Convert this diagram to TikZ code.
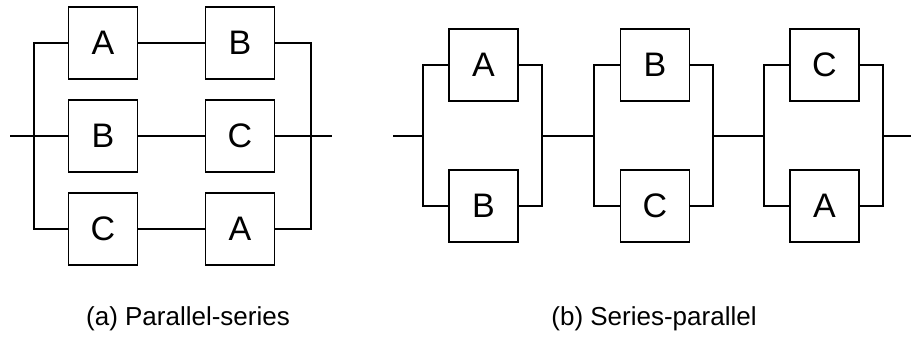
\documentclass[tikz,border=0pt]{standalone}
\usepackage{fontspec}
\setmainfont{Liberation Sans}
\usepackage{tikz}

\begin{document}
\begin{tikzpicture}[x=1pt, y=-1pt, line width=1.5pt,
  unit/.style={draw, minimum width=69pt, minimum height=72pt, inner sep=0pt, font=\fontsize{34}{40}\selectfont},
  caption/.style={font=\fontsize{26}{31}\selectfont}]
\useasboundingbox (0,0) rectangle (911,341);
% (a) parallel-series: blocks
\node[unit] (pa1) at (103,43) {A};
\node[unit] (pa2) at (240,43) {B};
\node[unit] (pb1) at (103,136) {B};
\node[unit] (pb2) at (240,136) {C};
\node[unit] (pc1) at (103,229) {C};
\node[unit] (pc2) at (240,229) {A};
% (a) terminals and buses
\coordinate (inA) at (10,136);
\coordinate (outA) at (332,136);
\coordinate (lbusA) at (34,136);
\coordinate (rbusA) at (311,136);
\draw (inA) -- (lbusA);
\draw (rbusA) -- (outA);
\draw (pa1.west) -| (lbusA) |- (pc1.west);
\draw (lbusA) -- (pb1.west);
\draw (pa2.east) -| (rbusA) |- (pc2.east);
\draw (rbusA) -- (pb2.east);
% (a) series links
\draw (pa1) -- (pa2);
\draw (pb1) -- (pb2);
\draw (pc1) -- (pc2);
% (b) series-parallel: blocks
\node[unit] (s1t) at (483.5,65) {A};
\node[unit] (s1b) at (483.5,206) {B};
\node[unit] (s2t) at (655,65) {B};
\node[unit] (s2b) at (655,206) {C};
\node[unit] (s3t) at (824.5,65) {C};
\node[unit] (s3b) at (824.5,206) {A};
% (b) terminals and buses
\coordinate (inB) at (393,136);
\coordinate (outB) at (911,136);
\coordinate (l1) at (423,136);
\coordinate (r1) at (542,136);
\coordinate (l2) at (594,136);
\coordinate (r2) at (713,136);
\coordinate (l3) at (764,136);
\coordinate (r3) at (883,136);
\draw (s1t.west) -| (l1) |- (s1b.west);
\draw (s1t.east) -| (r1) |- (s1b.east);
\draw (s2t.west) -| (l2) |- (s2b.west);
\draw (s2t.east) -| (r2) |- (s2b.east);
\draw (s3t.west) -| (l3) |- (s3b.west);
\draw (s3t.east) -| (r3) |- (s3b.east);
% (b) series links
\draw (inB) -- (l1);
\draw (r1) -- (l2);
\draw (r2) -- (l3);
\draw (r3) -- (outB);
% captions
\node[caption] (capA) at (188,319) {(a) Parallel-series};
\node[caption] (capB) at (654,319) {(b) Series-parallel};
\end{tikzpicture}
\end{document}
